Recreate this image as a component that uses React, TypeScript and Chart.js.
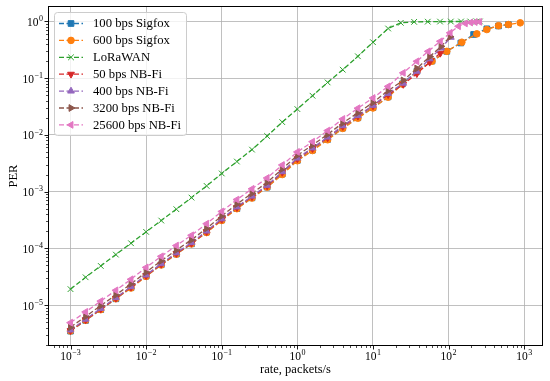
import React, { useEffect, useRef } from "react";
import { Chart, registerables } from "chart.js";

Chart.register(...registerables);

// ---------------- data ----------------
const SERIES_LABELS = [
  "100 bps Sigfox",
  "600 bps Sigfox",
  "LoRaWAN",
  "50 bps NB-Fi",
  "400 bps NB-Fi",
  "3200 bps NB-Fi",
  "25600 bps NB-Fi",
];
const SERIES_COLORS = ["#1f77b4", "#ff7f0e", "#2ca02c", "#d62728", "#9467bd", "#8c564b", "#e377c2"];
const SERIES_MARKERS = ["rect", "circle", "crossRot", "triangle", "triangle", "triangle", "triangle"];
const SERIES_ROTATION = [0, 0, 0, 180, 0, 90, 270];
const SERIES_RADIUS = [4, 3.3, 4, 3.9, 3.9, 3.9, 3.9];

// shared low-rate grid (packets/s)
const RATE_LOW = [
  0.001, 0.001585, 0.002512, 0.003981, 0.00631, 0.01, 0.01585, 0.02512, 0.03981, 0.0631,
  0.1, 0.1585, 0.2512, 0.3981, 0.631, 1, 1.585, 2.512, 3.981, 6.31, 10, 15.85,
];

const SIGFOX100_RATE_HIGH = [24.5, 38.0, 60.3, 94.6, 145, 214, 320, 457, 617];
const SIGFOX600_RATE_HIGH = [24.5, 38.0, 60.3, 94.6, 149.6, 236, 320, 457, 617, 885];
const LORAWAN_RATE_HIGH = [23.3, 35, 53, 77, 107, 146, 193, 236, 259];
const NBFI50_RATE_HIGH = [25.1, 38.0, 56.2, 77.6];
const NBFI400_RATE_HIGH = [25.1, 38.0, 56.2, 79.4, 107];
const NBFI3200_RATE_HIGH = [25.1, 38.0, 56.2, 79.4, 104.7];
const NBFI25600_RATE_HIGH = [25.1, 38.0, 53.7, 77.6, 104.7, 134.9, 166, 195, 224, 257];

const SIGFOX100_PER = [
  3.47e-6, 5.37e-6, 8.32e-6, 1.29e-5, 2.02e-5, 3.24e-5, 5.13e-5, 7.94e-5, 1.2e-4, 1.93e-4,
  3.16e-4, 5.01e-4, 7.76e-4, 1.2e-3, 2.04e-3, 3.55e-3, 5.37e-3, 8.32e-3, 0.0132, 0.02, 0.0302, 0.0468,
  0.0794, 0.132, 0.2, 0.297, 0.417, 0.589, 0.741, 0.832, 0.881,
];
const SIGFOX600_PER = [
  3.5e-6, 5.4e-6, 8.3e-6, 1.3e-5, 2.0e-5, 3.2e-5, 5.1e-5, 7.9e-5, 1.2e-4, 1.9e-4,
  3.1e-4, 5.0e-4, 7.7e-4, 1.2e-3, 2.0e-3, 3.5e-3, 5.3e-3, 8.2e-3, 0.013, 0.0197, 0.0298, 0.0462,
  0.0785, 0.13, 0.199, 0.297, 0.43, 0.603, 0.719, 0.841, 0.881, 0.944,
];
const LORAWAN_PER = [
  1.91e-5, 3.09e-5, 4.9e-5, 7.76e-5, 1.23e-4, 1.95e-4, 3.09e-4, 4.9e-4, 7.85e-4, 1.26e-3,
  2.09e-3, 3.39e-3, 5.5e-3, 9.55e-3, 0.0168, 0.0285, 0.049, 0.0841, 0.141, 0.243, 0.43, 0.75,
  0.944, 0.982, 0.99, 0.994, 0.996, 0.997, 0.998, 0.999, 0.999,
];
const NBFI50_PER = [
  3.55e-6, 5.5e-6, 8.51e-6, 1.32e-5, 2.07e-5, 3.31e-5, 5.25e-5, 8.13e-5, 1.23e-4, 1.97e-4,
  3.24e-4, 5.25e-4, 8.13e-4, 1.26e-3, 2.19e-3, 3.8e-3, 5.75e-3, 8.91e-3, 0.0141, 0.0214, 0.0324, 0.0513,
  0.0776, 0.12, 0.191, 0.275,
];
const NBFI400_PER = [
  3.63e-6, 5.62e-6, 8.71e-6, 1.35e-5, 2.11e-5, 3.39e-5, 5.37e-5, 8.32e-5, 1.26e-4, 2.02e-4,
  3.31e-4, 5.37e-4, 8.32e-4, 1.29e-3, 2.24e-3, 3.89e-3, 5.89e-3, 9.12e-3, 0.0145, 0.0219, 0.0331, 0.0537,
  0.0813, 0.132, 0.219, 0.339, 0.525,
];
const NBFI3200_PER = [
  4.07e-6, 6.31e-6, 9.77e-6, 1.51e-5, 2.37e-5, 3.8e-5, 6.03e-5, 9.33e-5, 1.41e-4, 2.26e-4,
  3.72e-4, 6.03e-4, 9.33e-4, 1.45e-3, 2.51e-3, 4.37e-3, 6.61e-3, 0.0102, 0.0162, 0.0245, 0.0372, 0.0603,
  0.0912, 0.148, 0.24, 0.363, 0.537,
];
const NBFI25600_PER = [
  4.9e-6, 7.59e-6, 1.175e-5, 1.82e-5, 2.85e-5, 4.62e-5, 7.24e-5, 1.12e-4, 1.7e-4, 2.72e-4,
  4.47e-4, 7.24e-4, 1.12e-3, 1.74e-3, 2.95e-3, 5.01e-3, 7.59e-3, 0.0119, 0.0191, 0.0295, 0.0447, 0.0716,
  0.124, 0.198, 0.297, 0.447, 0.631, 0.822, 0.923, 0.955, 0.973, 0.982,
];

const SERIES_RATES_HIGH = [
  SIGFOX100_RATE_HIGH, SIGFOX600_RATE_HIGH, LORAWAN_RATE_HIGH, NBFI50_RATE_HIGH,
  NBFI400_RATE_HIGH, NBFI3200_RATE_HIGH, NBFI25600_RATE_HIGH,
];
const SERIES_PER = [
  SIGFOX100_PER, SIGFOX600_PER, LORAWAN_PER, NBFI50_PER, NBFI400_PER, NBFI3200_PER, NBFI25600_PER,
];

const X_MIN = 5.04e-4;
const X_MAX = 1770;
const Y_MIN = 1.9e-6;
const Y_MAX = 1.87;
const X_TITLE = "rate, packets/s";
const Y_TITLE = "PER";

// ---------------- styling helpers ----------------
const SERIF = '"Liberation Serif", "DejaVu Serif", serif';

function isDecade(v: number) {
  const l = Math.log10(v);
  return Math.abs(l - Math.round(l)) < 1e-6;
}

function drawMarker(ctx: CanvasRenderingContext2D, style: string, x: number, y: number, r: number, rotDeg: number, color: string) {
  ctx.save();
  ctx.translate(x, y);
  ctx.rotate((rotDeg * Math.PI) / 180);
  ctx.fillStyle = color;
  ctx.strokeStyle = color;
  ctx.lineWidth = 1;
  ctx.setLineDash([]);
  ctx.beginPath();
  if (style === "rect") {
    const s = Math.SQRT1_2 * r;
    ctx.rect(-s, -s, 2 * s, 2 * s);
    ctx.fill();
    ctx.stroke();
  } else if (style === "circle") {
    ctx.arc(0, 0, r, 0, Math.PI * 2);
    ctx.fill();
    ctx.stroke();
  } else if (style === "triangle") {
    for (let k = 0; k < 3; k++) {
      const a = (k * 2 * Math.PI) / 3;
      const px = Math.sin(a) * r;
      const py = -Math.cos(a) * r;
      if (k === 0) ctx.moveTo(px, py);
      else ctx.lineTo(px, py);
    }
    ctx.closePath();
    ctx.fill();
    ctx.stroke();
  } else {
    const o = Math.SQRT1_2 * r;
    ctx.moveTo(-o, -o);
    ctx.lineTo(o, o);
    ctx.moveTo(-o, o);
    ctx.lineTo(o, -o);
    ctx.stroke();
  }
  ctx.restore();
}

function drawPow(ctx: CanvasRenderingContext2D, e: number, x: number, baseY: number, align: string) {
  const base = "10";
  const sup = e < 0 ? "\u2212" + -e : String(e);
  const fMain = "11.5px " + SERIF;
  const fSup = "8px " + SERIF;
  ctx.font = fMain;
  const wb = ctx.measureText(base).width;
  ctx.font = fSup;
  const ws = ctx.measureText(sup).width;
  const total = wb + 0.5 + ws;
  const x0 = align === "right" ? x - total : x - total / 2;
  ctx.textAlign = "left";
  ctx.textBaseline = "alphabetic";
  ctx.fillStyle = "#000";
  ctx.font = fMain;
  ctx.fillText(base, x0, baseY);
  ctx.font = fSup;
  ctx.fillText(sup, x0 + wb + 0.5, baseY - 4.8);
}

const mplPlugin = {
  id: "mplDecor",
  afterDraw(chart: any) {
    const ctx: CanvasRenderingContext2D = chart.ctx;
    const a = chart.chartArea;
    const xs = chart.scales.x;
    const ys = chart.scales.y;
    ctx.save();
    ctx.setLineDash([]);
    ctx.strokeStyle = "#000";

    // tick marks
    const eMinX = Math.floor(Math.log10(X_MIN));
    const eMaxX = Math.ceil(Math.log10(X_MAX));
    for (let e = eMinX; e <= eMaxX; e++) {
      for (let m = 1; m <= 9; m++) {
        const v = m * Math.pow(10, e);
        if (v < X_MIN || v > X_MAX) continue;
        const px = Math.round(xs.getPixelForValue(v)) + 0.5;
        ctx.lineWidth = m === 1 ? 0.9 : 0.7;
        ctx.beginPath();
        ctx.moveTo(px, a.bottom);
        ctx.lineTo(px, a.bottom + (m === 1 ? 3.5 : 2));
        ctx.stroke();
      }
    }
    const eMinY = Math.floor(Math.log10(Y_MIN));
    const eMaxY = Math.ceil(Math.log10(Y_MAX));
    for (let e = eMinY; e <= eMaxY; e++) {
      for (let m = 1; m <= 9; m++) {
        const v = m * Math.pow(10, e);
        if (v < Y_MIN || v > Y_MAX) continue;
        const py = Math.round(ys.getPixelForValue(v)) + 0.5;
        ctx.lineWidth = m === 1 ? 0.9 : 0.7;
        ctx.beginPath();
        ctx.moveTo(a.left, py);
        ctx.lineTo(a.left - (m === 1 ? 3.5 : 2), py);
        ctx.stroke();
      }
    }

    // tick labels
    for (let e = eMinX; e <= eMaxX; e++) {
      const v = Math.pow(10, e);
      if (v < X_MIN || v > X_MAX) continue;
      drawPow(ctx, e, xs.getPixelForValue(v), a.bottom + 13.5, "center");
    }
    for (let e = eMinY; e <= eMaxY; e++) {
      const v = Math.pow(10, e);
      if (v < Y_MIN || v > Y_MAX) continue;
      drawPow(ctx, e, a.left - 5, ys.getPixelForValue(v) + 4.5, "right");
    }

    // frame
    ctx.lineWidth = 1;
    ctx.strokeStyle = "#000";
    ctx.strokeRect(Math.round(a.left) + 0.5, Math.round(a.top) + 0.5, Math.round(a.right - a.left) - 1, Math.round(a.bottom - a.top) - 1);

    // axis titles
    ctx.fillStyle = "#000";
    ctx.font = "12.5px " + SERIF;
    ctx.textAlign = "center";
    ctx.textBaseline = "alphabetic";
    ctx.fillText(X_TITLE, (a.left + a.right) / 2, 373);
    ctx.save();
    ctx.translate(16.5, (a.top + a.bottom) / 2);
    ctx.rotate(-Math.PI / 2);
    ctx.fillText(Y_TITLE, 0, 0);
    ctx.restore();

    // legend
    const lx = 54.5, ly = 12.5, lw = 132, lh = 123;
    ctx.beginPath();
    ctx.roundRect(lx, ly, lw, lh, 3);
    ctx.fillStyle = "rgba(255,255,255,0.8)";
    ctx.fill();
    ctx.strokeStyle = "#cccccc";
    ctx.lineWidth = 1;
    ctx.stroke();
    for (let i = 0; i < SERIES_LABELS.length; i++) {
      const y = 23.5 + i * 16.9;
      const c = SERIES_COLORS[i];
      ctx.strokeStyle = c;
      ctx.lineWidth = 1.3;
      ctx.setLineDash([5, 2.5]);
      ctx.beginPath();
      ctx.moveTo(59, y);
      ctx.lineTo(83, y);
      ctx.stroke();
      ctx.setLineDash([]);
      drawMarker(ctx, SERIES_MARKERS[i], 71, y, SERIES_RADIUS[i], SERIES_ROTATION[i], c);
      ctx.fillStyle = "#000";
      ctx.font = "12.7px " + SERIF;
      ctx.textAlign = "left";
      ctx.textBaseline = "middle";
      ctx.fillText(SERIES_LABELS[i], 93, y + 0.5);
    }
    ctx.restore();
  },
};

export default function App() {
  const ref = useRef<HTMLCanvasElement>(null);
  useEffect(() => {
    document.body.style.margin = "0";
    const datasets = SERIES_LABELS.map((label, i) => {
      const rates = RATE_LOW.concat(SERIES_RATES_HIGH[i]);
      const per = SERIES_PER[i];
      return {
        label,
        data: per.map((y, j) => ({ x: rates[j], y })),
        borderColor: SERIES_COLORS[i],
        backgroundColor: SERIES_COLORS[i],
        borderWidth: 1.3,
        borderDash: [5, 2.5],
        pointStyle: SERIES_MARKERS[i],
        pointRotation: SERIES_ROTATION[i],
        pointRadius: SERIES_RADIUS[i],
        pointBorderWidth: 1,
        pointBackgroundColor: SERIES_COLORS[i],
        pointBorderColor: SERIES_COLORS[i],
        fill: false,
        tension: 0,
        order: SERIES_LABELS.length - i,
      };
    });
    const gridColor = (c: any) => (c.tick && isDecade(c.tick.value) ? "#b0b0b0" : "rgba(0,0,0,0)");
    const chart = new Chart(ref.current as HTMLCanvasElement, {
      type: "line",
      data: { datasets: datasets as any },
      options: {
        animation: false,
        responsive: false,
        layout: { padding: { top: 6, right: 7, left: 0, bottom: 0 } },
        plugins: { legend: { display: false }, tooltip: { enabled: false } },
        scales: {
          x: {
            type: "logarithmic",
            min: X_MIN,
            max: X_MAX,
            ticks: { display: false, autoSkip: false },
            grid: { color: gridColor, lineWidth: 0.8, drawTicks: false },
            border: { display: false },
            afterFit: (s: any) => { s.height = 35; },
          },
          y: {
            type: "logarithmic",
            min: Y_MIN,
            max: Y_MAX,
            ticks: { display: false, autoSkip: false },
            grid: { color: gridColor, lineWidth: 0.8, drawTicks: false },
            border: { display: false },
            afterFit: (s: any) => { s.width = 48; },
          },
        },
      } as any,
      plugins: [mplPlugin],
    });
    return () => chart.destroy();
  }, []);
  return (
    <div style={{ width: 550, height: 381, position: "relative" }}>
      <canvas ref={ref} width={550} height={381} style={{ display: "block", width: 550, height: 381 }} />
    </div>
  );
}
